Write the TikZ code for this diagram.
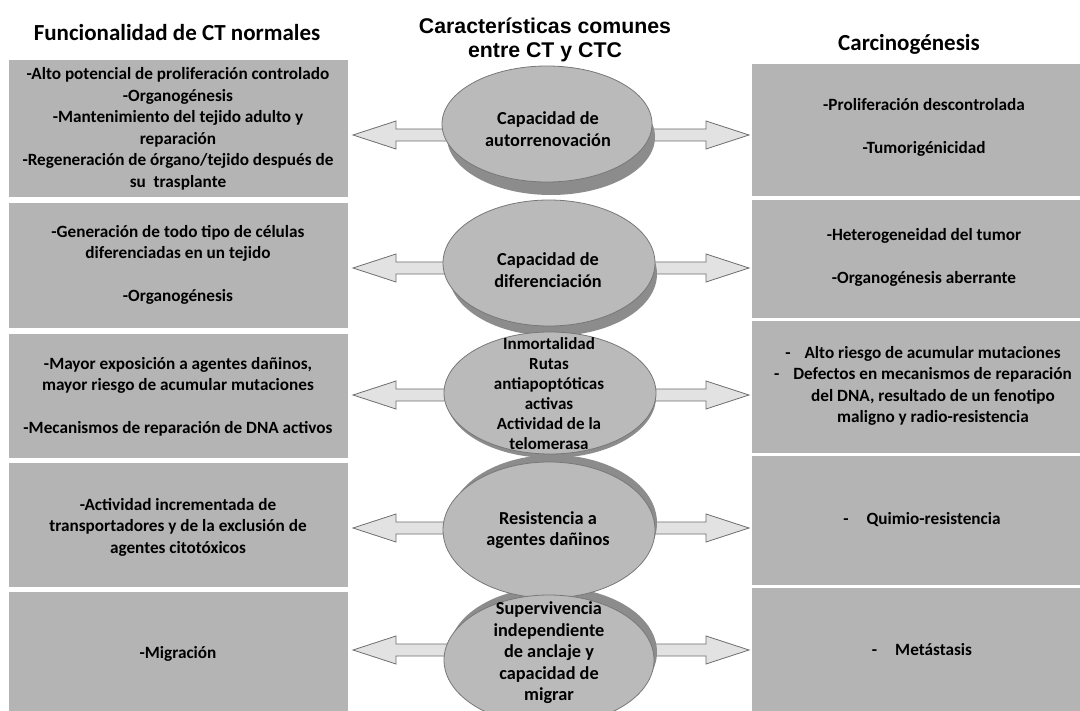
\documentclass[tikz,border=0pt]{standalone}
\usepackage{fontspec}
\setmainfont{Carlito}
\newfontfamily\arialb{Liberation Sans}
\usetikzlibrary{shapes.geometric}
\definecolor{boxgray}{RGB}{180,180,180}
\definecolor{facegray}{RGB}{186,186,186}
\definecolor{rimgray}{RGB}{120,120,120}
\definecolor{shadowgray}{RGB}{140,140,140}
\definecolor{arrowfill}{RGB}{226,226,226}
\definecolor{arrowline}{RGB}{110,110,110}
\begin{document}
\begin{tikzpicture}[x=1pt,y=-1pt,
  gbox/.style={fill=boxgray,draw=none,inner sep=0pt},
  btext/.style={font=\bfseries\fontsize{17.2}{21.5}\selectfont,align=center,inner sep=0pt},
  etext/.style={font=\bfseries\fontsize{18.3}{21.5}\selectfont,align=center,inner sep=0pt},
  face/.style={ellipse,fill=facegray,draw=rimgray,line width=0.8pt,inner sep=0pt},
  shadowell/.style={ellipse,fill=shadowgray,draw=none,inner sep=0pt},
  titletext/.style={font=\bfseries\fontsize{23}{26}\selectfont,inner sep=0pt},
  larrow/.pic={\draw[fill=arrowfill,draw=arrowline,line width=0.8pt,line join=miter]
     (0,0) -- (43,-14) -- (43,-6) -- (100,-6) -- (100,6) -- (43,6) -- (43,14) -- cycle;},
  rarrow/.pic={\draw[fill=arrowfill,draw=arrowline,line width=0.8pt,line join=miter]
     (0,0) -- (-43,-14) -- (-43,-6) -- (-100,-6) -- (-100,6) -- (-43,6) -- (-43,14) -- cycle;}
]
\useasboundingbox (0,0) rectangle (1080,711);
\fill[white] (0,0) rectangle (1080,711);

% titles
\node[titletext] (tl) at (177,33) {Funcionalidad de CT normales};
\node[font=\arialb\bfseries\fontsize{21.3}{24}\selectfont,align=center,inner sep=0pt] (tc) at (545,40) {Características comunes\\entre CT y CTC};
\node[titletext] (tr) at (909,44) {Carcinogénesis};

% left boxes
\path[gbox] (9,60) rectangle (348,197);
\path[gbox] (9,203) rectangle (348,328);
\path[gbox] (9,334) rectangle (348,458);
\path[gbox] (9,463) rectangle (348,587);
\path[gbox] (9,592) rectangle (348,711);
% right boxes
\path[gbox] (752,64) rectangle (1080,196);
\path[gbox] (752,200) rectangle (1080,318);
\path[gbox] (752,321) rectangle (1080,453);
\path[gbox] (752,456) rectangle (1080,585);
\path[gbox] (752,588) rectangle (1080,711);

% left texts
\node[btext] (l1) at (178,129) {-Alto potencial de proliferación controlado\\-Organogénesis\\-Mantenimiento del tejido adulto y\\reparación\\-Regeneración de órgano/tejido después de\\su\ \ trasplante};
\node[btext] (l2) at (178,265) {-Generación de todo tipo de células\\diferenciadas en un tejido\\[21.5pt]-Organogénesis};
\node[btext] (l3) at (178,397) {-Mayor exposición a agentes dañinos,\\mayor riesgo de acumular mutaciones\\[21.5pt]-Mecanismos de reparación de DNA activos};
\node[btext] (l4) at (178,527) {-Actividad incrementada de\\transportadores y de la exclusión de\\agentes citotóxicos};
\node[btext] (l5) at (178,654) {-Migración};

% right texts
\node[btext] (r1) at (924,127) {-Proliferación descontrolada\\[21.5pt]-Tumorigénicidad};
\node[btext] (r2) at (924,257) {-Heterogeneidad del tumor\\[21.5pt]-Organogénesis aberrante};
\node[btext] (r3) at (923,386) {-\hspace{14pt}Alto riesgo de acumular mutaciones\\-\hspace{14pt}Defectos en mecanismos de reparación\\\hspace{20pt}del DNA, resultado de un fenotipo\\\hspace{20pt}maligno y radio-resistencia};
\node[btext] (r4) at (922,520) {-\hspace{18pt}Quimio-resistencia};
\node[btext] (r5) at (922,650) {-\hspace{18pt}Metástasis};

% arrows (behind ellipses)
\coordinate (a1l) at (353,135); \coordinate (a1r) at (749,135);
\coordinate (a2l) at (353,268); \coordinate (a2r) at (749,268);
\coordinate (a3l) at (353,395); \coordinate (a3r) at (749,395);
\coordinate (a4l) at (353,528); \coordinate (a4r) at (749,528);
\coordinate (a5l) at (353,650); \coordinate (a5r) at (749,650);
\foreach \n in {1,...,5}{
  \pic at (a\n l) {larrow};
  \pic at (a\n r) {rarrow};
}

% ellipse shadows
\node[shadowell,minimum width=208pt,minimum height=116pt] (s1) at (551,137) {};
\node[shadowell,minimum width=208pt,minimum height=124pt] (s2) at (553,274) {};
\node[shadowell,minimum width=210pt,minimum height=122pt] (s3) at (551,397) {};
\node[shadowell,minimum width=208pt,minimum height=136pt] (s4) at (553,523) {};
\node[shadowell,minimum width=208pt,minimum height=130pt] (s5) at (553,652) {};
% ellipse faces
\node[face,minimum width=210pt,minimum height=116pt] (e1) at (547,124) {};
\node[face,minimum width=212pt,minimum height=126pt] (e2) at (549,263) {};
\node[face,minimum width=212pt,minimum height=122pt] (e3) at (550,393) {};
\node[face,minimum width=212pt,minimum height=136pt] (e4) at (549,530) {};
\node[face,minimum width=210pt,minimum height=130pt] (e5) at (549,660) {};

% ellipse texts
\node[etext] (t1) at (548,129) {Capacidad de\\autorrenovación};
\node[etext] (t2) at (548,270) {Capacidad de\\diferenciación};
\node[etext,font=\bfseries\fontsize{17}{20}\selectfont] (t3) at (549,394) {Inmortalidad\\Rutas\\antiapoptóticas\\activas\\Actividad de la\\telomerasa};
\node[etext] (t4) at (548,530) {Resistencia a\\agentes dañinos};
\node[etext] (t5) at (549,653) {Supervivencia\\independiente\\de anclaje y\\capacidad de\\migrar};
\end{tikzpicture}
\end{document}
